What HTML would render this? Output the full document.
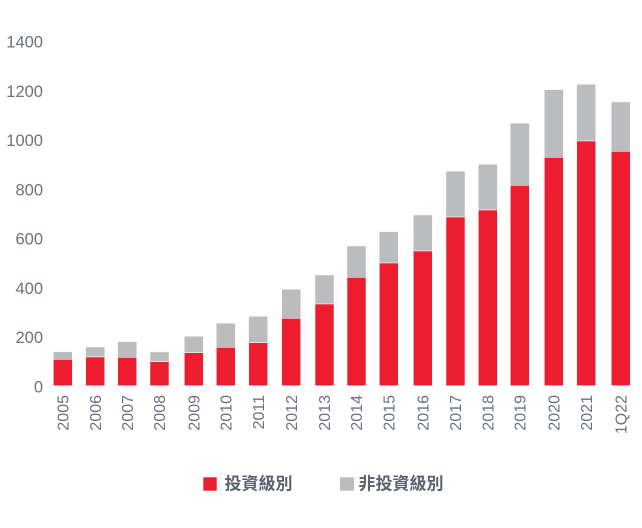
<!DOCTYPE html>
<html><head><meta charset="utf-8"><style>
html,body{margin:0;padding:0;background:#fff;}
svg{display:block;}
.yl{font-family:"Liberation Sans",sans-serif;font-size:16.5px;fill:#6b737c;}
.xl{font-family:"Liberation Sans",sans-serif;font-size:16px;fill:#6b737c;}
.lg{font-family:"Liberation Sans","Noto Sans CJK TC",sans-serif;font-size:17px;font-weight:bold;fill:#5a6370;}
</style></head><body>
<svg width="642" height="528" viewBox="0 0 642 528" xmlns="http://www.w3.org/2000/svg">
<g class="yl" text-anchor="end">
<text x="43" y="47.5">1400</text>
<text x="43" y="96.8">1200</text>
<text x="43" y="146">1000</text>
<text x="43" y="195.3">800</text>
<text x="43" y="244.6">600</text>
<text x="43" y="293.8">400</text>
<text x="43" y="343">200</text>
<text x="43" y="392.4">0</text>
</g>
<g stroke="#f2f2f2" stroke-width="0.6">
<rect x="53.3" y="351.7" width="19" height="7.6" fill="#bbbcbe"/><rect x="53.3" y="359.3" width="19" height="26.4" fill="#ed1c2e"/>
<rect x="85.7" y="347" width="19" height="10" fill="#bbbcbe"/><rect x="85.7" y="357" width="19" height="28.7" fill="#ed1c2e"/>
<rect x="117.7" y="341.7" width="19" height="15.6" fill="#bbbcbe"/><rect x="117.7" y="357.3" width="19" height="28.4" fill="#ed1c2e"/>
<rect x="150" y="352" width="19" height="9.7" fill="#bbbcbe"/><rect x="150" y="361.7" width="19" height="24" fill="#ed1c2e"/>
<rect x="184.3" y="336.3" width="19" height="16.4" fill="#bbbcbe"/><rect x="184.3" y="352.7" width="19" height="33" fill="#ed1c2e"/>
<rect x="216.3" y="323.3" width="19" height="24" fill="#bbbcbe"/><rect x="216.3" y="347.3" width="19" height="38.4" fill="#ed1c2e"/>
<rect x="248.7" y="316.3" width="19" height="26.4" fill="#bbbcbe"/><rect x="248.7" y="342.7" width="19" height="43" fill="#ed1c2e"/>
<rect x="281.7" y="289.3" width="19" height="29" fill="#bbbcbe"/><rect x="281.7" y="318.3" width="19" height="67.4" fill="#ed1c2e"/>
<rect x="315" y="275" width="19" height="29" fill="#bbbcbe"/><rect x="315" y="304" width="19" height="81.7" fill="#ed1c2e"/>
<rect x="347" y="246" width="19" height="31.3" fill="#bbbcbe"/><rect x="347" y="277.3" width="19" height="108.4" fill="#ed1c2e"/>
<rect x="379.3" y="231.7" width="19" height="31.3" fill="#bbbcbe"/><rect x="379.3" y="263" width="19" height="122.7" fill="#ed1c2e"/>
<rect x="413.3" y="215" width="19" height="36" fill="#bbbcbe"/><rect x="413.3" y="251" width="19" height="134.7" fill="#ed1c2e"/>
<rect x="446" y="171.3" width="19" height="45.7" fill="#bbbcbe"/><rect x="446" y="217" width="19" height="168.7" fill="#ed1c2e"/>
<rect x="478.3" y="164.3" width="19" height="45.7" fill="#bbbcbe"/><rect x="478.3" y="210" width="19" height="175.7" fill="#ed1c2e"/>
<rect x="510.3" y="123.3" width="19" height="62" fill="#bbbcbe"/><rect x="510.3" y="185.3" width="19" height="200.4" fill="#ed1c2e"/>
<rect x="544.3" y="89.7" width="19" height="67.6" fill="#bbbcbe"/><rect x="544.3" y="157.3" width="19" height="228.4" fill="#ed1c2e"/>
<rect x="576.7" y="84.3" width="19" height="56.7" fill="#bbbcbe"/><rect x="576.7" y="141" width="19" height="244.7" fill="#ed1c2e"/>
<rect x="611.3" y="102" width="19" height="49.3" fill="#bbbcbe"/><rect x="611.3" y="151.3" width="19" height="234.4" fill="#ed1c2e"/>
</g>
<g class="xl" text-anchor="end">
<text transform="translate(68.5,395) rotate(-90)">2005</text>
<text transform="translate(100.9,395) rotate(-90)">2006</text>
<text transform="translate(132.9,395) rotate(-90)">2007</text>
<text transform="translate(165.2,395) rotate(-90)">2008</text>
<text transform="translate(199.5,395) rotate(-90)">2009</text>
<text transform="translate(231.5,395) rotate(-90)">2010</text>
<text transform="translate(263.9,395) rotate(-90)">2011</text>
<text transform="translate(296.9,395) rotate(-90)">2012</text>
<text transform="translate(330.2,395) rotate(-90)">2013</text>
<text transform="translate(362.2,395) rotate(-90)">2014</text>
<text transform="translate(394.5,395) rotate(-90)">2015</text>
<text transform="translate(428.5,395) rotate(-90)">2016</text>
<text transform="translate(461.2,395) rotate(-90)">2017</text>
<text transform="translate(493.5,395) rotate(-90)">2018</text>
<text transform="translate(525.5,395) rotate(-90)">2019</text>
<text transform="translate(559.5,395) rotate(-90)">2020</text>
<text transform="translate(591.9,395) rotate(-90)">2021</text>
<text transform="translate(626.5,395) rotate(-90)">1Q22</text>
</g>
<rect x="203.3" y="477.3" width="13.4" height="13.4" fill="#ed1c2e"/>
<text class="lg" x="224.5" y="489.5">投資級別</text>
<rect x="340" y="477.3" width="14" height="13.4" fill="#bbbcbe"/>
<text class="lg" x="358.5" y="489.5">非投資級別</text>
</svg>
</body></html>
